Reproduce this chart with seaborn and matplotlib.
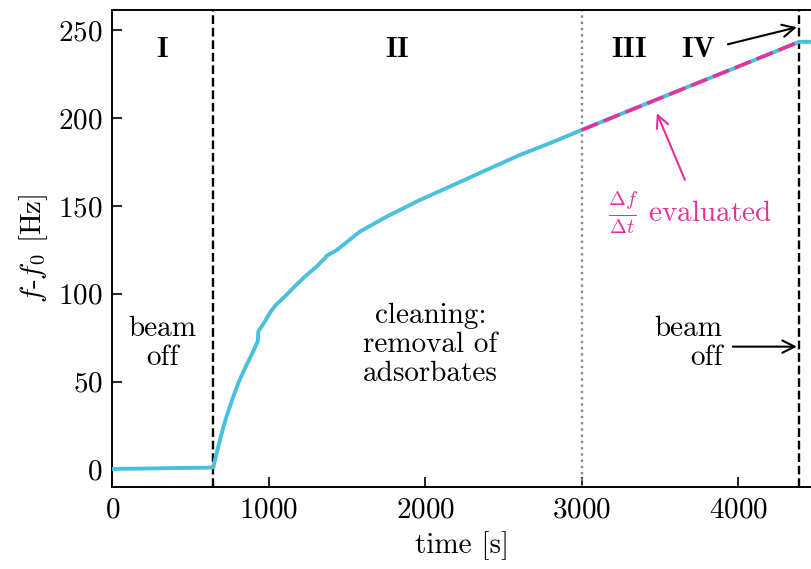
import matplotlib
matplotlib.use("Agg")
import matplotlib.pyplot as plt
import seaborn as sns
import pandas as pd

# Frequency shift of the resonator during beam exposure
time_s = [0, 200, 400, 600, 646, 665, 689, 710, 731, 770, 806, 840, 870, 900, 930,
          934, 976, 1010, 1045, 1080, 1104, 1125, 1180, 1232, 1300, 1360, 1371,
          1434, 1500, 1583, 1754, 1967, 2180, 2393, 2606, 2819, 3000, 3350, 3700,
          4050, 4390, 4466]
freq_hz = [0.3, 0.5, 0.8, 1.0, 1.2, 8.5, 17.0, 24.0, 30.3, 40.5, 49.3, 56.0, 61.5,
           67.0, 72.9, 78.6, 84.3, 89.5, 93.5, 96.5, 98.5, 100.4, 105.4, 109.8,
           115.0, 120.3, 121.6, 124.8, 129.5, 135.4, 143.9, 153.4, 161.9, 170.5,
           179.0, 186.5, 193.2, 205.9, 218.5, 231.0, 243.4, 243.4]

# Linear slope evaluation window
fit_t = [3000, 4390]
fit_f = [193.2, 243.4]

beam_off_t = [646, 4390]
eval_start_t = 3000

phase_labels = ["I", "II", "III", "IV"]
phase_t = [319, 1821, 3303, 3744]

sns.set_theme(style="ticks")
plt.rcParams.update({
    "font.family": ["serif"],
    "font.serif": ["cmr10"],
    "mathtext.fontset": "cm",
    "axes.unicode_minus": False,
    "axes.formatter.use_mathtext": True,
    "font.size": 21,
    "text.color": "black",
    "axes.labelcolor": "black",
    "xtick.color": "black",
    "ytick.color": "black",
    "axes.edgecolor": "black",
})

cyan = "#4ac0df"
magenta = "#e8309b"

fig = plt.figure(figsize=(8.11, 5.69), dpi=100)
ax = fig.add_axes([0.1384, 0.1441, 0.8616, 0.8383])

df = pd.DataFrame({"t": time_s, "f": freq_hz})
sns.lineplot(data=df, x="t", y="f", ax=ax, color=cyan, lw=2.8, zorder=3)
ax.plot(fit_t, fit_f, color=magenta, lw=2.5, dashes=(5, 1.8), zorder=4)

for tb in beam_off_t:
    ax.axvline(tb, color="black", ls="--", lw=1.7, zorder=2)
ax.axvline(eval_start_t, color="#888888", ls=":", lw=1.7, zorder=2)

ax.set_xlim(0, 4466)
ax.set_ylim(-10, 261.5)
ax.set_xticks([0, 1000, 2000, 3000, 4000])
ax.set_yticks([0, 50, 100, 150, 200, 250])
ax.tick_params(direction="in", length=7, width=1.2, labelsize=21, pad=7,
               colors="black")
for side in ["left", "bottom", "top"]:
    ax.spines[side].set_linewidth(1.4)
    ax.spines[side].set_color("black")
ax.spines["right"].set_visible(False)

ax.set_xlabel("time [s]", fontsize=21, labelpad=6)
ax.set_ylabel(r"$f$-$f_0$ [Hz]", fontsize=21, labelpad=6)

for lab, tx in zip(phase_labels, phase_t):
    ax.text(tx, 238.6, r"$\mathbf{%s}$" % lab, ha="center", va="center", fontsize=21)

ax.text(319, 71.6, "beam\noff", ha="center", va="center", fontsize=21,
        linespacing=1.12)
ax.text(2033, 71, "cleaning:\nremoval of\nadsorbates", ha="center", va="center",
        fontsize=21, linespacing=1.12)
ax.text(3902, 72, "beam\noff", ha="right", va="center", fontsize=21,
        linespacing=1.12)
ax.text(3168, 146, r"$\frac{\Delta f}{\Delta t}$ evaluated", ha="left",
        va="center", fontsize=21, color=magenta)

arrow_k = dict(arrowstyle="->", color="black", lw=1.5, mutation_scale=22,
               shrinkA=0, shrinkB=0)
ax.annotate("", xy=(4376, 251.7), xytext=(3935, 242), arrowprops=arrow_k)
ax.annotate("", xy=(4376, 69.9), xytext=(3966, 69.9), arrowprops=arrow_k)
ax.annotate("", xy=(3481, 202.8), xytext=(3660, 164.8),
            arrowprops=dict(arrowstyle="->", color=magenta, lw=1.5,
                            mutation_scale=22, shrinkA=0, shrinkB=0))

fig.savefig("out.png", dpi=100)
